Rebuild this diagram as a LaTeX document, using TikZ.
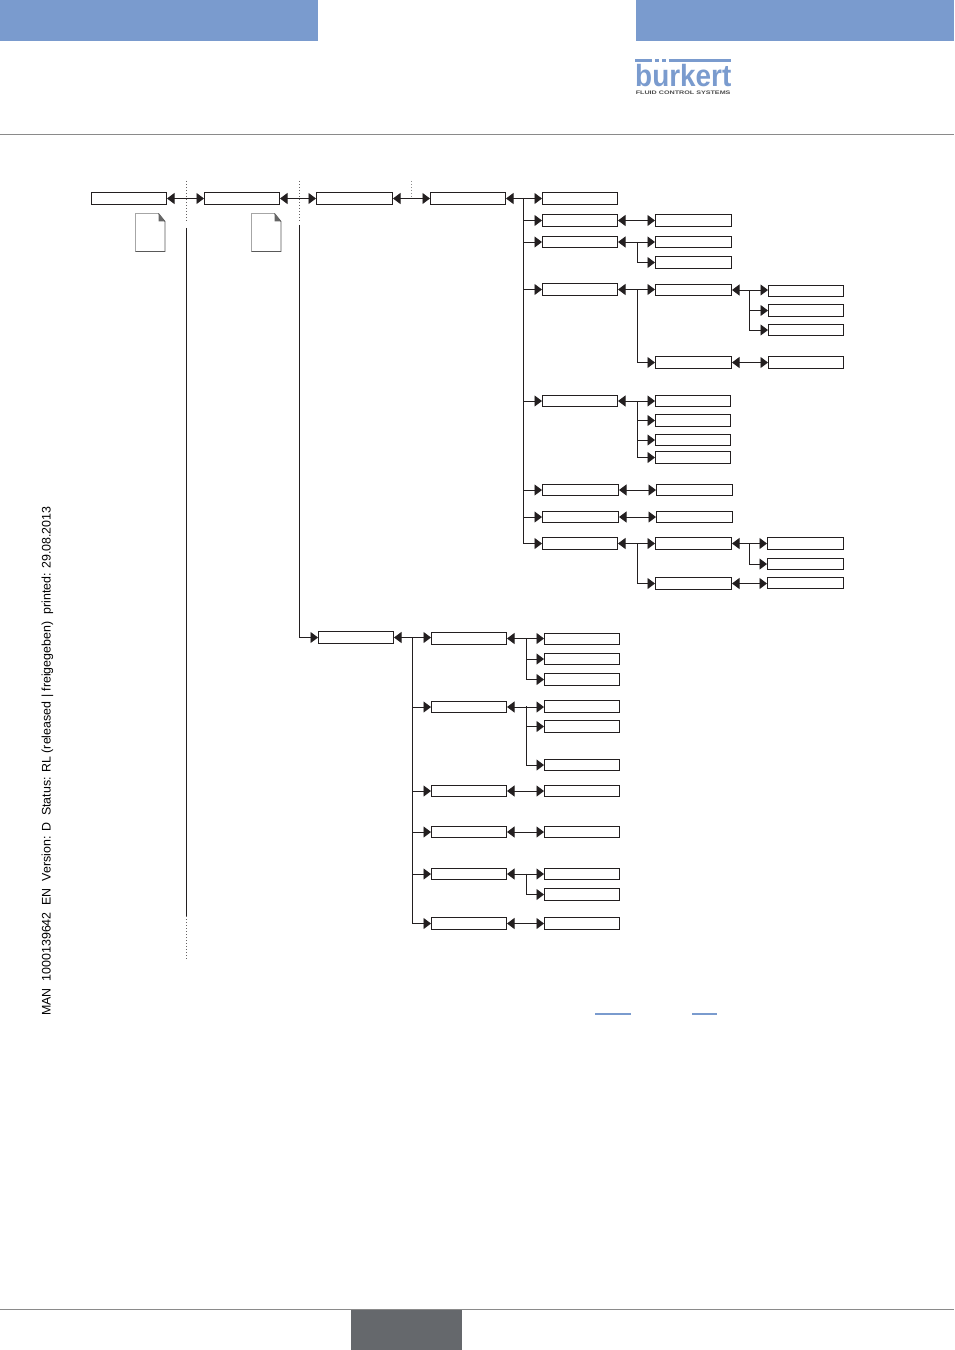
\documentclass[tikz,border=0pt]{standalone}
\usepackage{fontspec}
\setmainfont{Liberation Sans}
\usetikzlibrary{arrows.meta,calc}
\definecolor{brandblue}{HTML}{7A9BCE}
\definecolor{rulegrey}{HTML}{8A8A8A}
\definecolor{pagegrey}{HTML}{65686C}
\definecolor{inkdark}{HTML}{231F20}
\tikzset{
  menubox/.style={draw=inkdark,line width=0.95bp,fill=white,inner sep=0pt,anchor=north west},
  link/.style={draw=inkdark,line width=0.95bp,-{Triangle[length=7.5bp,width=11bp]}},
  biglink/.style={draw=inkdark,line width=0.95bp,{Triangle[length=7.5bp,width=11bp]}-{Triangle[length=7.5bp,width=11bp]}},
  trunk/.style={draw=inkdark,line width=0.95bp},
  dots/.style={draw=inkdark!70,line width=0.9bp,dash pattern=on 1bp off 2bp},
  sheet/.style={line width=0.9bp},
}
% Menu box from its top-left corner to its bottom-right corner
\newcommand{\menuitem}[5]{%
  \pgfmathsetmacro{\boxw}{#4-#2-0.95}\pgfmathsetmacro{\boxh}{#5-#3-0.95}%
  \node[menubox,minimum width=\boxw bp,minimum height=\boxh bp] (#1) at (#2,#3) {};}
% Document symbol: left edge x, top y
\newcommand{\sheeticon}[3]{%
  \coordinate (#1) at (#2,#3);
  \draw[sheet,draw=black!35] ($(#1)+(0,38)$) -- (#1) -- ($(#1)+(23,0)$);
  \draw[sheet,draw=black!65] ($(#1)+(23,0)$) -- ($(#1)+(29.5,8)$) -- ($(#1)+(29.5,38)$) -- ($(#1)+(0,38)$);
  \fill[black!60] ($(#1)+(23,0)$) -- ($(#1)+(23,8)$) -- ($(#1)+(29.5,8)$) -- cycle;}
\begin{document}
\begin{tikzpicture}[x=1bp,y=-1bp]
\useasboundingbox (0,0) rectangle (954,1350);
% page furniture
\fill[brandblue] (0,0) rectangle (318,41);
\fill[brandblue] (636,0) rectangle (954,41);
\draw[rulegrey,line width=0.8bp] (0,134.5) -- (954,134.5);
\draw[rulegrey,line width=0.8bp] (0,1309.5) -- (954,1309.5);
\fill[pagegrey] (351,1310) rectangle (462,1350);
\fill[brandblue] (595,1012.8) rectangle (631,1014.6);
\fill[brandblue] (692,1012.8) rectangle (717,1014.6);
% logo: wordmark, then the bar whose two short pieces serve as the umlaut
\node[anchor=base west,inner sep=0pt,text=brandblue,font=\bfseries,yscale=1.1] (logoname) at (635,87) {\fontsize{28}{28}\selectfont bürkert};
\fill[white] (652,62.5) rectangle (669,68.5);
\fill[brandblue] (635,58.8) rectangle (652,62.4);
\fill[brandblue] (655,58.8) rectangle (659,62.4);
\fill[brandblue] (662,58.8) rectangle (666,62.4);
\fill[brandblue] (669,58.8) rectangle (731,62.4);
\node[anchor=base west,inner sep=0pt,text=black!70,font=\bfseries,xscale=1.41] (logosub) at (635.5,94.5) {\fontsize{5.1}{6}\selectfont FLUID CONTROL SYSTEMS};
% document reference along the margin
\node[rotate=90,anchor=west,inner sep=0pt,text=black] (docref) at (47.5,1016) {\fontsize{12.47}{14}\selectfont MAN\ \ 1000139642\ \ EN\ \ Version: D\ \ Status: RL (released | freigegeben)\ \ printed: 29.08.2013};
% top row
\menuitem{a1}{91}{192}{167}{205}
\menuitem{a2}{204}{192}{280}{205}
\menuitem{a3}{316}{192}{393}{205}
\menuitem{a4}{430}{192}{506}{205}
% second level
\menuitem{b1}{542}{192}{618}{205}
\menuitem{b2}{542}{214}{618}{227}
\menuitem{b3}{542}{236}{618}{248}
\menuitem{b4}{542}{283}{618}{296}
\menuitem{b5}{542}{395}{618}{407}
\menuitem{b6}{542}{484}{619}{496}
\menuitem{b7}{542}{511}{619}{523}
\menuitem{b8}{542}{537}{618}{550}
% third level
\menuitem{c2}{655}{214}{732}{227}
\menuitem{c3a}{655}{236}{732}{248}
\menuitem{c3b}{655}{256}{732}{269}
\menuitem{c4a}{655}{284}{732}{296}
\menuitem{c4b}{655}{356}{732}{369}
\menuitem{c5a}{655}{395}{731}{407}
\menuitem{c5b}{655}{414}{731}{427}
\menuitem{c5c}{655}{434}{731}{446}
\menuitem{c5d}{655}{451}{731}{464}
\menuitem{c6}{656}{484}{733}{496}
\menuitem{c7}{656}{511}{733}{523}
\menuitem{c8a}{655}{537}{732}{550}
\menuitem{c8b}{655}{577}{732}{590}
% fourth level
\menuitem{d1}{768}{285}{844}{297}
\menuitem{d2}{768}{304}{844}{317}
\menuitem{d3}{768}{324}{844}{336}
\menuitem{d4}{768}{356}{844}{369}
\menuitem{d5}{767}{537}{844}{550}
\menuitem{d6}{767}{558}{844}{570}
\menuitem{d7}{767}{577}{844}{589}
% lower branch
\menuitem{e}{318}{631}{394}{644}
\menuitem{f1}{431}{632}{507}{645}
\menuitem{f2}{431}{701}{507}{713}
\menuitem{f3}{431}{785}{507}{797}
\menuitem{f4}{431}{826}{507}{838}
\menuitem{f5}{431}{868}{507}{880}
\menuitem{f6}{431}{917}{507}{930}
\menuitem{g1}{544}{633}{620}{645}
\menuitem{g2}{544}{653}{620}{665}
\menuitem{g3}{544}{673}{620}{686}
\menuitem{g4}{544}{700}{620}{713}
\menuitem{g5}{544}{720}{620}{733}
\menuitem{g6}{544}{759}{620}{771}
\menuitem{g7}{544}{785}{620}{797}
\menuitem{g8}{544}{826}{620}{838}
\menuitem{g9}{544}{868}{620}{880}
\menuitem{g10}{544}{888}{620}{901}
\menuitem{g11}{544}{917}{620}{930}
% horizontal links
\foreach \l/\r in {a1/a2,a2/a3,a3/a4,a4/b1,b2/c2,b3/c3a,b4/c4a,b5/c5a,b6/c6,b7/c7,b8/c8a,c4a/d1,c4b/d4,c8a/d5,c8b/d7,e/f1,f1/g1,f2/g4,f3/g7,f4/g8,f5/g9,f6/g11}
  \draw[biglink] (\l.east) -- (\l.east -| \r.west);
% branch trunks
\coordinate (t5) at (523,198);
\draw[trunk] (t5) -- (t5 |- b8.west);
\foreach \n in {b2,b3,b4,b5,b6,b7,b8}
  \draw[link] (t5 |- \n.west) -- (\n.west);
\coordinate (t3) at (637,242);
\draw[link] (t3) |- (c3b.west);
\coordinate (t4) at (637,290);
\draw[link] (t4) |- (c4b.west);
\coordinate (t4d) at (749,290.5);
\foreach \n in {d2,d3} \draw[link] (t4d) |- (\n.west);
\coordinate (t5c) at (637,401);
\foreach \n in {c5b,c5c,c5d} \draw[link] (t5c) |- (\n.west);
\coordinate (t8) at (637,543);
\draw[link] (t8) |- (c8b.west);
\coordinate (t8d) at (749,543);
\draw[link] (t8d) |- (d6.west);
\coordinate (tf) at (412,637.5);
\draw[trunk] (tf) -- (tf |- f6.west);
\foreach \n in {f2,f3,f4,f5,f6}
  \draw[link] (tf |- \n.west) -- (\n.west);
\coordinate (tg1) at (526,638);
\foreach \n in {g2,g3} \draw[link] (tg1) |- (\n.west);
\coordinate (tg2) at (526,706);
\foreach \n in {g5,g6} \draw[link] (tg2) |- (\n.west);
\coordinate (tg3) at (526,873.5);
\draw[link] (tg3) |- (g10.west);
% long separators
\coordinate (s1top) at (186.5,181);
\coordinate (s1a) at (186.5,222);
\coordinate (s1b) at (186.5,228);
\coordinate (s1c) at (186.5,916);
\coordinate (s1d) at (186.5,959);
\draw[dots] (s1top) -- (s1a);
\draw[trunk] (s1b) -- (s1c);
\draw[dots] (s1c) -- (s1d);
\coordinate (s2top) at (299,181);
\coordinate (s2a) at (299,222);
\coordinate (s2b) at (299,225);
\draw[dots] (s2top) -- (s2a);
\draw[link] (s2b) |- (e.west);
\coordinate (s3top) at (411,181);
\coordinate (s3a) at (411,198);
\draw[dots,draw=black!45] (s3top) -- (s3a);
% document symbols
\sheeticon{doc1}{135.5}{213.5}
\sheeticon{doc2}{251.5}{213.5}
\end{tikzpicture}
\end{document}
